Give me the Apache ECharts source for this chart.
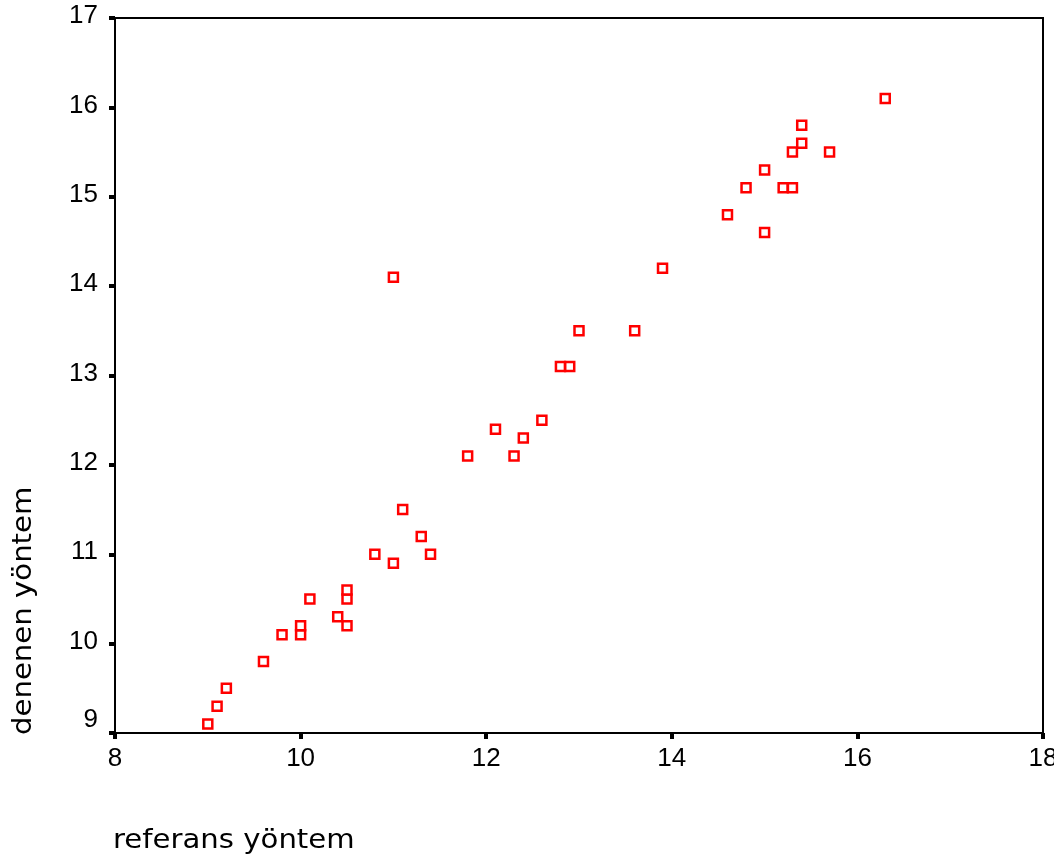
<!DOCTYPE html>
<html>
<head>
<meta charset="utf-8">
<script src="https://cdn.jsdelivr.net/npm/echarts@6/dist/echarts.min.js"></script>
<style>html,body{margin:0;padding:0;background:#fff;}#c{width:1054px;height:862px;}</style>
</head>
<body>
<div id="c"></div>
<script>
var referans = [9.0, 9.1, 9.2, 9.6, 9.8, 10.0, 10.0, 10.1, 10.4, 10.5, 10.5, 10.5, 10.8, 11.0, 11.1, 11.3, 11.4, 11.0, 11.8, 12.1, 12.4, 12.3, 12.6, 12.8, 12.9, 13.0, 13.6, 13.9, 14.6, 14.8, 15.0, 15.0, 15.2, 15.3, 15.3, 15.4, 15.4, 15.7, 16.3];
var denenen  = [9.1, 9.3, 9.5, 9.8, 10.1, 10.1, 10.2, 10.5, 10.3, 10.2, 10.5, 10.6, 11.0, 10.9, 11.5, 11.2, 11.0, 14.1, 12.1, 12.4, 12.3, 12.1, 12.5, 13.1, 13.1, 13.5, 13.5, 14.2, 14.8, 15.1, 14.6, 15.3, 15.1, 15.1, 15.5, 15.6, 15.8, 15.5, 16.1];
var xTicks = [8, 10, 12, 14, 16, 18];
var yTicks = [9, 10, 11, 12, 13, 14, 15, 16, 17];
var xTitle = 'referans yöntem';
var yTitle = 'denenen yöntem';

var points = referans.map(function (v, i) { return [v, denenen[i]]; });

var chart = echarts.init(document.getElementById('c'));
chart.setOption({
  backgroundColor: '#fff',
  animation: false,
  grid: { left: 115, top: 18, right: 11, bottom: 129, containLabel: false, outerBoundsMode: 'none', show: true, borderColor: '#000', borderWidth: 2, backgroundColor: 'transparent' },
  xAxis: {
    type: 'value', min: xTicks[0], max: xTicks[xTicks.length - 1], interval: 2,
    axisLine: { show: true, lineStyle: { color: '#000', width: 2 } },
    axisTick: { show: true, inside: false, length: 6, lineStyle: { color: '#000', width: 4 } },
    axisLabel: { color: '#000', fontFamily: 'Liberation Sans', fontSize: 26, margin: 13, hideOverlap: false },
    splitLine: { show: false }
  },
  yAxis: {
    type: 'value', min: yTicks[0], max: yTicks[yTicks.length - 1], interval: 1,
    axisLine: { show: true, lineStyle: { color: '#000', width: 2 } },
    axisTick: { show: true, inside: false, length: 6, lineStyle: { color: '#000', width: 4 } },
    axisLabel: {
      color: '#000', fontFamily: 'Liberation Sans', fontSize: 26, margin: 17,
      formatter: function (v) { return v === yTicks[0] ? '{low|' + v + '}' : '{n|' + v + '}'; },
      rich: {
        low: { color: '#000', fontFamily: 'Liberation Sans', fontSize: 26, padding: [0, 0, 26, 0] },
        n: { color: '#000', fontFamily: 'Liberation Sans', fontSize: 26, padding: [0, 0, 4, 0] }
      }
    },
    splitLine: { show: false }
  },
  series: [{
    type: 'scatter',
    data: points,
    symbol: 'rect',
    symbolSize: 9,
    itemStyle: { color: '#fff', borderColor: '#ff0000', borderWidth: 2.5, opacity: 1 },
    emphasis: { disabled: true }
  }],
  graphic: [
    {
      type: 'text', x: 113, y: 841, scaleX: 1.08,
      style: { text: xTitle, fontFamily: 'DejaVu Sans', fontSize: 27, fill: '#000', align: 'left', verticalAlign: 'middle' }
    },
    {
      type: 'text', x: 24, y: 735, rotation: Math.PI / 2, scaleX: 1.08,
      style: { text: yTitle, fontFamily: 'DejaVu Sans', fontSize: 27, fill: '#000', align: 'left', verticalAlign: 'middle' }
    }
  ]
});
</script>
</body>
</html>
